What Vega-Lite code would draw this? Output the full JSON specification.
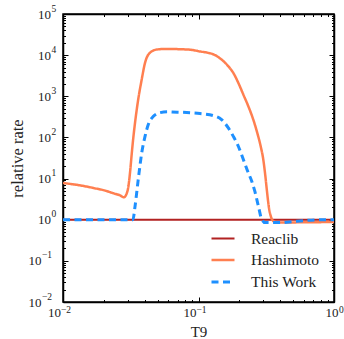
{
  "$schema": "https://vega.github.io/schema/vega-lite/v6.json",
  "width": 271,
  "height": 288,
  "autosize": "none",
  "padding": {"left": 63, "top": 14, "right": 10, "bottom": 37},
  "background": "white",
  "config": {
    "view": {"stroke": "black", "strokeWidth": 1.5},
    "font": "Liberation Serif",
    "axis": {
      "domain": false,
      "domainColor": "black",
      "domainWidth": 1.5,
      "grid": false,
      "ticks": false,
      "tickColor": "black",
      "tickWidth": 1,
      "labelFont": "Liberation Serif",
      "labelFontSize": 13,
      "labelColor": "#222222",
      "labelOverlap": false,
      "labelBound": false,
      "labelFlush": false,
      "titleFont": "Liberation Serif",
      "titleFontSize": 16.5,
      "titleFontWeight": "normal",
      "titleColor": "#222222"
    },
    "legend": {
      "orient": "none",
      "legendX": 147,
      "legendY": 212,
      "padding": 0,
      "symbolType": "stroke",
      "symbolSize": 529,
      "rowPadding": -2,
      "labelOffset": 15,
      "labelFont": "Liberation Serif",
      "labelFontSize": 15.5,
      "labelColor": "#222222",
      "title": null
    }
  },
  "datasets": {
    "curves": [
      {"T9": 0.01, "rate": 1, "series": "Reaclib"},
      {"T9": 1.0, "rate": 1, "series": "Reaclib"},

      {"T9": 0.01, "rate": 7.8, "series": "Hashimoto"},
      {"T9": 0.0135, "rate": 6.8, "series": "Hashimoto"},
      {"T9": 0.0168, "rate": 5.9, "series": "Hashimoto"},
      {"T9": 0.0205, "rate": 5.1, "series": "Hashimoto"},
      {"T9": 0.0235, "rate": 4.4, "series": "Hashimoto"},
      {"T9": 0.0264, "rate": 3.9, "series": "Hashimoto"},
      {"T9": 0.0281, "rate": 3.5, "series": "Hashimoto"},
      {"T9": 0.0294, "rate": 4.2, "series": "Hashimoto"},
      {"T9": 0.0304, "rate": 6.5, "series": "Hashimoto"},
      {"T9": 0.0313, "rate": 15, "series": "Hashimoto"},
      {"T9": 0.0322, "rate": 42, "series": "Hashimoto"},
      {"T9": 0.0331, "rate": 105, "series": "Hashimoto"},
      {"T9": 0.034, "rate": 225, "series": "Hashimoto"},
      {"T9": 0.0359, "rate": 840, "series": "Hashimoto"},
      {"T9": 0.0381, "rate": 2560, "series": "Hashimoto"},
      {"T9": 0.0403, "rate": 6500, "series": "Hashimoto"},
      {"T9": 0.0438, "rate": 11400, "series": "Hashimoto"},
      {"T9": 0.0492, "rate": 13700, "series": "Hashimoto"},
      {"T9": 0.0582, "rate": 14200, "series": "Hashimoto"},
      {"T9": 0.0637, "rate": 14100, "series": "Hashimoto"},
      {"T9": 0.075, "rate": 13900, "series": "Hashimoto"},
      {"T9": 0.0895, "rate": 13400, "series": "Hashimoto"},
      {"T9": 0.1026, "rate": 12300, "series": "Hashimoto"},
      {"T9": 0.116, "rate": 11500, "series": "Hashimoto"},
      {"T9": 0.1285, "rate": 10500, "series": "Hashimoto"},
      {"T9": 0.148, "rate": 7800, "series": "Hashimoto"},
      {"T9": 0.166, "rate": 5370, "series": "Hashimoto"},
      {"T9": 0.1807, "rate": 3700, "series": "Hashimoto"},
      {"T9": 0.1967, "rate": 2120, "series": "Hashimoto"},
      {"T9": 0.2143, "rate": 1100, "series": "Hashimoto"},
      {"T9": 0.2333, "rate": 570, "series": "Hashimoto"},
      {"T9": 0.2537, "rate": 271, "series": "Hashimoto"},
      {"T9": 0.2716, "rate": 128, "series": "Hashimoto"},
      {"T9": 0.2877, "rate": 61, "series": "Hashimoto"},
      {"T9": 0.3008, "rate": 28.8, "series": "Hashimoto"},
      {"T9": 0.3096, "rate": 13.7, "series": "Hashimoto"},
      {"T9": 0.32, "rate": 5.0, "series": "Hashimoto"},
      {"T9": 0.33, "rate": 2.1, "series": "Hashimoto"},
      {"T9": 0.345, "rate": 1.1, "series": "Hashimoto"},
      {"T9": 0.357, "rate": 0.92, "series": "Hashimoto"},
      {"T9": 0.39, "rate": 0.85, "series": "Hashimoto"},
      {"T9": 0.5, "rate": 0.86, "series": "Hashimoto"},
      {"T9": 0.7, "rate": 0.87, "series": "Hashimoto"},
      {"T9": 1.0, "rate": 0.88, "series": "Hashimoto"},

      {"T9": 0.01, "rate": 1, "series": "This Work"},
      {"T9": 0.02, "rate": 1, "series": "This Work"},
      {"T9": 0.0328, "rate": 1, "series": "This Work"},
      {"T9": 0.034, "rate": 2.1, "series": "This Work"},
      {"T9": 0.0359, "rate": 9.4, "series": "This Work"},
      {"T9": 0.0381, "rate": 42, "series": "This Work"},
      {"T9": 0.0403, "rate": 106, "series": "This Work"},
      {"T9": 0.0426, "rate": 205, "series": "This Work"},
      {"T9": 0.0465, "rate": 325, "series": "This Work"},
      {"T9": 0.052, "rate": 400, "series": "This Work"},
      {"T9": 0.0598, "rate": 420, "series": "This Work"},
      {"T9": 0.0637, "rate": 415, "series": "This Work"},
      {"T9": 0.075, "rate": 408, "series": "This Work"},
      {"T9": 0.0895, "rate": 395, "series": "This Work"},
      {"T9": 0.1026, "rate": 380, "series": "This Work"},
      {"T9": 0.1285, "rate": 339, "series": "This Work"},
      {"T9": 0.148, "rate": 271, "series": "This Work"},
      {"T9": 0.166, "rate": 170, "series": "This Work"},
      {"T9": 0.1807, "rate": 106, "series": "This Work"},
      {"T9": 0.1967, "rate": 61, "series": "This Work"},
      {"T9": 0.2143, "rate": 29, "series": "This Work"},
      {"T9": 0.2333, "rate": 13.7, "series": "This Work"},
      {"T9": 0.246, "rate": 9.0, "series": "This Work"},
      {"T9": 0.26, "rate": 5.0, "series": "This Work"},
      {"T9": 0.277, "rate": 2.1, "series": "This Work"},
      {"T9": 0.292, "rate": 1.05, "series": "This Work"},
      {"T9": 0.31, "rate": 0.85, "series": "This Work"},
      {"T9": 0.4, "rate": 0.85, "series": "This Work"},
      {"T9": 0.47, "rate": 0.88, "series": "This Work"},
      {"T9": 0.6, "rate": 0.95, "series": "This Work"},
      {"T9": 0.8, "rate": 1.0, "series": "This Work"},
      {"T9": 1.0, "rate": 1.0, "series": "This Work"}
    ]
  },
  "data": {"name": "curves"},
  "layer": [
    {
      "transform": [{"filter": "datum.series === 'Reaclib'"}],
      "mark": {"type": "line", "opacity": 0},
      "encoding": {
        "x": {
          "field": "T9", "type": "quantitative",
          "scale": {"type": "log", "domain": [0.01, 1], "nice": false},
          "axis": {
            "orient": "top", "labels": false, "title": null, "ticks": true, "domain": true,
            "tickSize": {"condition": {"test": "abs(log(datum.value)/LN10 - round(log(datum.value)/LN10)) < 0.001", "value": -5}, "value": -2.5},
            "values": [0.01,0.02,0.03,0.04,0.05,0.06,0.07,0.08,0.09,0.1,0.2,0.3,0.4,0.5,0.6,0.7,0.8,0.9,1]
          }
        },
        "y": {
          "field": "rate", "type": "quantitative",
          "scale": {"type": "log", "domain": [0.01, 100000], "nice": false},
          "axis": {
            "orient": "right", "labels": false, "title": null, "ticks": true, "domain": true,
            "tickSize": {"condition": {"test": "abs(log(datum.value)/LN10 - round(log(datum.value)/LN10)) < 0.001", "value": -5}, "value": -2.5},
            "values": [0.01,0.02,0.03,0.04,0.05,0.06,0.07,0.08,0.09,0.1,0.2,0.3,0.4,0.5,0.6,0.7,0.8,0.9,1,2,3,4,5,6,7,8,9,10,20,30,40,50,60,70,80,90,100,200,300,400,500,600,700,800,900,1000,2000,3000,4000,5000,6000,7000,8000,9000,10000,20000,30000,40000,50000,60000,70000,80000,90000,100000]
          }
        }
      }
    },
    {
      "transform": [{"filter": "datum.series === 'Reaclib'"}],
      "mark": {"type": "line", "opacity": 0},
      "encoding": {
        "x": {
          "field": "T9", "type": "quantitative",
          "scale": {"type": "log", "domain": [0.01, 1], "nice": false},
          "axis": {
            "orient": "bottom", "labels": false, "title": null, "ticks": true, "domain": true,
            "tickSize": {"condition": {"test": "abs(log(datum.value)/LN10 - round(log(datum.value)/LN10)) < 0.001", "value": -5}, "value": -2.5},
            "values": [0.01,0.02,0.03,0.04,0.05,0.06,0.07,0.08,0.09,0.1,0.2,0.3,0.4,0.5,0.6,0.7,0.8,0.9,1]
          }
        },
        "y": {
          "field": "rate", "type": "quantitative",
          "scale": {"type": "log", "domain": [0.01, 100000], "nice": false},
          "axis": {
            "orient": "left", "labels": false, "title": null, "ticks": true, "domain": true,
            "tickSize": {"condition": {"test": "abs(log(datum.value)/LN10 - round(log(datum.value)/LN10)) < 0.001", "value": -5}, "value": -2.5},
            "values": [0.01,0.02,0.03,0.04,0.05,0.06,0.07,0.08,0.09,0.1,0.2,0.3,0.4,0.5,0.6,0.7,0.8,0.9,1,2,3,4,5,6,7,8,9,10,20,30,40,50,60,70,80,90,100,200,300,400,500,600,700,800,900,1000,2000,3000,4000,5000,6000,7000,8000,9000,10000,20000,30000,40000,50000,60000,70000,80000,90000,100000]
          }
        }
      }
    },
    {
      "transform": [{"filter": "datum.series === 'Reaclib'"}],
      "mark": {"type": "line", "opacity": 0},
      "encoding": {
        "x": {
          "field": "T9", "type": "quantitative",
          "scale": {"type": "log", "domain": [0.01, 1], "nice": false},
          "axis": {
            "orient": "bottom", "title": null,
            "values": [0.01, 0.1, 1],
            "labelFontSize": 9.5, "labelAlign": "left", "labelPadding": 2,
            "labelOffset": {"condition": {"test": "datum.value < 0.99", "value": -2.5}, "value": 4.5},
            "labelExpr": "(round(log(datum.value)/LN10) < 0 ? '−' : '') + abs(round(log(datum.value)/LN10))"
          }
        },
        "y": {
          "field": "rate", "type": "quantitative",
          "scale": {"type": "log", "domain": [0.01, 100000], "nice": false},
          "axis": {
            "orient": "left", "title": null,
            "values": [0.01, 0.1, 1, 10, 100, 1000, 10000, 100000],
            "labelFontSize": 9.5, "labelAlign": "left", "labelBaseline": "middle",
            "labelOffset": -6,
            "labelPadding": {"condition": {"test": "datum.value < 0.99", "value": 21.5}, "value": 12},
            "labelExpr": "(round(log(datum.value)/LN10) < 0 ? '−' : '') + abs(round(log(datum.value)/LN10))"
          }
        }
      }
    },
    {
      "mark": {"type": "line", "interpolate": "monotone", "clip": true},
      "encoding": {
        "x": {
          "field": "T9", "type": "quantitative",
          "scale": {"type": "log", "domain": [0.01, 1], "nice": false},
          "axis": {
            "orient": "bottom", "title": "T9", "titlePadding": 5, "titleFontSize": 15,
            "values": [0.01, 0.1, 1],
            "labelAlign": "center", "labelPadding": 4,
            "labelOffset": {"condition": {"test": "datum.value < 0.99", "value": -9}, "value": -2.5},
            "labelExpr": "'10'"
          }
        },
        "y": {
          "field": "rate", "type": "quantitative",
          "scale": {"type": "log", "domain": [0.01, 100000], "nice": false},
          "axis": {
            "orient": "left", "title": "relative rate", "titlePadding": 3,
            "values": [0.01, 0.1, 1, 10, 100, 1000, 10000, 100000],
            "labelAlign": "right", "labelBaseline": "middle",
            "labelPadding": {"condition": {"test": "datum.value < 0.99", "value": 22}, "value": 12.5},
            "labelExpr": "'10'"
          }
        },
        "color": {
          "field": "series", "type": "nominal",
          "scale": {"domain": ["Reaclib", "Hashimoto", "This Work"], "range": ["#b22222", "#ff7f50", "#1e90ff"]},
          "legend": {"title": null}
        },
        "strokeDash": {
          "field": "series", "type": "nominal",
          "scale": {"domain": ["Reaclib", "Hashimoto", "This Work"], "range": [[1, 0], [1, 0], [7, 4.5]]},
          "legend": {"title": null}
        },
        "strokeWidth": {
          "field": "series", "type": "nominal",
          "scale": {"domain": ["Reaclib", "Hashimoto", "This Work"], "range": [2, 3, 2.5]},
          "legend": {"title": null}
        }
      }
    }
  ],
  "resolve": {"axis": {"x": "independent", "y": "independent"}}
}
